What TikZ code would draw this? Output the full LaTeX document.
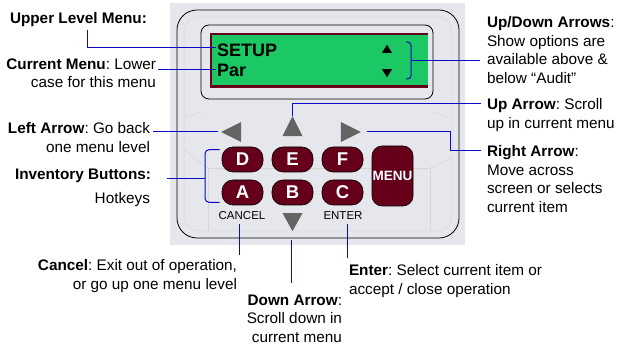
\documentclass[tikz,border=0pt]{standalone}
\usepackage{fontspec}
\setmainfont{Liberation Sans}
\usetikzlibrary{shapes.geometric,calc}
\definecolor{panelbg}{RGB}{229,231,236}
\definecolor{lcdgreen}{RGB}{28,200,100}
\definecolor{btnred}{RGB}{102,0,26}
\definecolor{lineblue}{RGB}{10,10,200}
\definecolor{arrowgray}{RGB}{100,100,100}
\frenchspacing
\begin{document}
\begin{tikzpicture}[x=1pt,y=-1pt,
  conn/.style={draw=lineblue, line width=1pt},
  lbl/.style={font=\fontsize{15.3}{18.5}\selectfont\frenchspacing, inner sep=0pt, outer sep=0pt},
  btn/.style={draw=black, line width=0.6pt, fill=btnred, rounded corners=11pt, minimum width=41pt, minimum height=25pt, inner sep=0pt, text=white, font=\fontsize{18.5}{18.5}\selectfont\bfseries},
  navtri/.style={isosceles triangle, isosceles triangle stretches, fill=arrowgray, minimum width=20pt, minimum height=20pt, inner sep=0pt, outer sep=0pt},
  lcdtri/.style={isosceles triangle, isosceles triangle stretches, fill=black, minimum width=10pt, minimum height=8pt, inner sep=0pt, outer sep=0pt},
  keycap/.style={font=\fontsize{11.5}{12}\selectfont, inner sep=0pt},
  lcdtxt/.style={font=\fontsize{18}{18}\selectfont\bfseries, inner sep=0pt, anchor=west},
  bevel/.style={draw=black!16, line width=0.5pt}
]
\useasboundingbox (0,0) rectangle (618,344);
\fill[white] (0,0) rectangle (618,344);
% panel
\fill[panelbg] (170,3) rectangle (465,245);
\draw[bevel, rounded corners=15pt] (184,17) rectangle (452,231);
\draw[bevel] (208,168) -- (430,168);
\draw[bevel] (208,168) -- (208,231);
\draw[bevel] (430,168) -- (430,231);
\draw[bevel] (208,168) -- (184,150);
\draw[bevel] (430,168) -- (452,158);
\draw[bevel] (201,112) -- (184,118);
\draw[bevel] (433,112) -- (452,118);
\draw[black, line width=0.8pt, rounded corners=20pt] (177,10) rectangle (459,238);
% screen
\draw[black, line width=0.8pt, rounded corners=8pt] (201,25) rectangle (433,99);
\fill[btnred] (210,33) rectangle (428,88);
\fill[lcdgreen] (212,35) rectangle (428,85.5);
\node[lcdtxt] (setup) at (217,50) {SETUP};
\node[lcdtxt] (par) at (217,70) {Par};
\node[lcdtri, shape border rotate=90] (lcdup) at (387,50) {};
\node[lcdtri, shape border rotate=-90] (lcddn) at (387,72) {};
% nav arrows
\node[navtri, shape border rotate=180] (larr) at (235,132) {};
\node[navtri, shape border rotate=90] (uarr) at (292.5,130) {};
\node[navtri, shape border rotate=0] (rarr) at (347,132) {};
\node[navtri, shape border rotate=-90, minimum height=18pt] (darr) at (292.5,219) {};
% buttons
\node[btn] (D) at (242.5,159.5) {D};
\node[btn] (E) at (292.5,159.5) {E};
\node[btn] (F) at (342.5,159.5) {F};
\node[btn] (A) at (242.5,192.5) {A};
\node[btn] (B) at (292.5,192.5) {B};
\node[btn] (C) at (342.5,192.5) {C};
\node[btn, minimum height=60pt, rounded corners=10pt, font=\fontsize{13.5}{13.5}\selectfont\bfseries] (menu) at (392.5,176) {MENU};
\node[keycap] (cancelkey) at (242,216) {CANCEL};
\node[keycap] (enterkey) at (343,216) {ENTER};
% labels
\node[lbl, anchor=north west] (ulm) at (10,12.5) {\textbf{Upper Level Menu:}};
\node[lbl, anchor=north east, align=right] (cm) at (156,58.5) {\textbf{Current Menu}: Lower\\case for this menu};
\node[lbl, anchor=north east, align=right] (la) at (150,122.5) {\textbf{Left Arrow}: Go back\\one menu level};
\node[lbl, anchor=north east] (inv) at (151,168.5) {\textbf{Inventory Buttons:}};
\node[lbl, anchor=north east] (hot) at (150,192.5) {Hotkeys};
\node[lbl, anchor=north west, align=left] (ud) at (487,16.5) {\textbf{Up/Down Arrows}:\\Show options are\\available above \&\\below “Audit”};
\node[lbl, anchor=north west, align=left] (ua) at (487,98.5) {\textbf{Up Arrow}: Scroll\\up in current menu};
\node[lbl, anchor=north west, align=left] (ra) at (487,145.5) {\textbf{Right Arrow}:\\Move across\\screen or selects\\current item};
\node[lbl, anchor=north east, align=right] (ctext) at (237,259.5) {\textbf{Cancel}: Exit out of operation,\\or go up one menu level};
\node[lbl, anchor=north east, align=right] (dtext) at (342,294.5) {\textbf{Down Arrow}:\\Scroll down in\\current menu};
\node[lbl, anchor=north west, align=left] (etext) at (349,264.5) {\textbf{Enter}: Select current item or\\accept / close operation};
% helper coordinates
\coordinate (invbr) at (205,179);
\coordinate (udtop) at (406,42);
\coordinate (udbr) at (411,60.5);
\coordinate (udbot) at (406,79);
% connectors
\draw[conn] ([xshift=9.5pt,yshift=-3.5pt]ulm.south) |- ([xshift=-1pt,yshift=2pt]setup.west);
\draw[conn] ([xshift=-1pt]par.west) -- ([xshift=2pt]par.west -| cm.east);
\draw[conn] ([xshift=-3pt]larr.apex) -- ([xshift=3pt]larr.apex -| la.east);
\draw[conn, rounded corners=4pt] ([xshift=-2pt,yshift=-3pt]D.north west) -| (invbr) |- ([xshift=-2pt,yshift=3pt]A.south west);
\draw[conn] (invbr) -- ([xshift=16pt]invbr -| inv.east);
\draw[conn, rounded corners=3.5pt] (udtop) -| (udbr) |- (udbot);
\draw[conn] (udbr) -- ([xshift=-7pt]udbr -| ud.west);
\draw[conn] (uarr.apex) |- ([xshift=-6pt,yshift=-5.5pt]ua.north west);
\draw[conn] ([xshift=6pt]rarr.apex) -- ++(84,0) |- ([xshift=-6pt,yshift=-5.5pt]ra.north west);
\draw[conn] ([xshift=-3pt,yshift=-4pt]cancelkey.south) -- ([xshift=-3pt,yshift=4pt]cancelkey.south |- ctext.north);
\draw[conn] ([xshift=-1.5pt,yshift=-9pt]darr.apex) -- ([xshift=-1.5pt,yshift=11pt]darr.apex |- dtext.north);
\draw[conn] ([xshift=4pt,yshift=-4pt]enterkey.south) -- ([xshift=4pt,yshift=6pt]enterkey.south |- etext.north);
\end{tikzpicture}
\end{document}
